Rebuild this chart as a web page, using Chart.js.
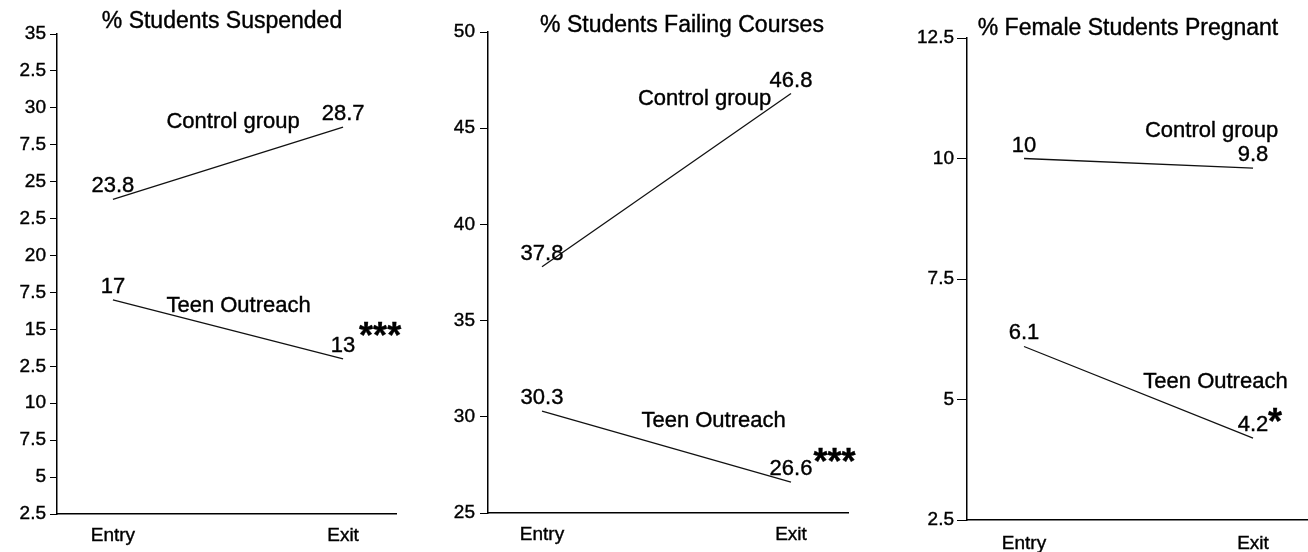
<!DOCTYPE html>
<html><head><meta charset="utf-8">
<script src="https://cdn.jsdelivr.net/npm/chart.js@4.4.1/dist/chart.umd.min.js"></script>
<style>
html,body{margin:0;padding:0;background:#fff;width:1308px;height:552px;overflow:hidden}
canvas{position:absolute;top:0}
</style></head><body>
<canvas id="c1" width="430" height="552" style="left:0px"></canvas>
<canvas id="c2" width="440" height="552" style="left:430px"></canvas>
<canvas id="c3" width="438" height="552" style="left:870px"></canvas>
<script>
// ---------- data ----------
const categories = ["Entry", "Exit"];
const seriesNames = ["Control group", "Teen Outreach"];
const titles = ["% Students Suspended", "% Students Failing Courses", "% Female Students Pregnant"];

const suspendedControl = [23.8, 28.7];
const suspendedTeen = [17, 13];
const failingControl = [37.8, 46.8];
const failingTeen = [30.3, 26.6];
const pregnantControl = [10, 9.8];
const pregnantTeen = [6.1, 4.2];

// tick labels, top to bottom, as printed
const suspendedTickLabels = ["35","2.5","30","7.5","25","2.5","20","7.5","15","2.5","10","7.5","5","2.5"];
const failingTickLabels = ["50","45","40","35","30","25"];
const pregnantTickLabels = ["12.5","10","7.5","5","2.5"];
const suspendedTop = 35, suspendedStep = 2.5;
const failingTop = 50, failingStep = 5;
const pregnantTop = 12.5, pregnantStep = 2.5;

const significance = ["***", "***", "*"];

// ---------- drawing ----------
const FONT = '"Liberation Sans", Arial, sans-serif';
Chart.defaults.font.family = FONT;
Chart.defaults.color = '#000';

function heavyText(ctx, text, x, y) {
  ctx.fillText(text, x, y);
  ctx.strokeText(text, x, y);
}

const annotPlugin = {
  id: 'annot',
  afterDatasetsDraw(chart, args, opts) {
    const ctx = chart.ctx, xs = chart.scales.x, ys = chart.scales.y;
    ctx.save();
    ctx.fillStyle = '#000';
    ctx.strokeStyle = '#000';
    ctx.lineWidth = 0.4;
    ctx.textAlign = 'center';
    ctx.textBaseline = 'alphabetic';
    ctx.font = '22px ' + FONT;
    chart.data.datasets.forEach(ds => {
      ds.data.forEach(p => {
        heavyText(ctx, String(p.y), xs.getPixelForValue(p.x), ys.getPixelForValue(p.y) - 7);
      });
    });
    opts.items.forEach(it => {
      ctx.font = it.font;
      heavyText(ctx, it.text, xs.getPixelForValue(it.x), ys.getPixelForValue(it.y));
    });
    ctx.font = '23px ' + FONT;
    heavyText(ctx, opts.title, opts.titleX, opts.titleY);
    ctx.restore();
  }
};

function pts(vals) { return categories.map((c, i) => ({ x: i, y: vals[i] })); }

function makeChart(id, p) {
  const n = p.tickLabels.length;
  const yMin = p.top - (n - 1) * p.step;
  new Chart(document.getElementById(id), {
    type: 'line',
    data: {
      datasets: [
        { label: seriesNames[0], data: pts(p.control), borderColor: '#111', borderWidth: 1.3, pointRadius: 0, fill: false, tension: 0 },
        { label: seriesNames[1], data: pts(p.teen), borderColor: '#111', borderWidth: 1.3, pointRadius: 0, fill: false, tension: 0 }
      ]
    },
    options: {
      responsive: false, animation: false, devicePixelRatio: 1,
      layout: { padding: { top: p.padTop, right: p.padRight, left: 0, bottom: 0 } },
      plugins: {
        legend: { display: false }, tooltip: { enabled: false }, title: { display: false },
        annot: { items: p.items, title: p.title, titleX: p.titleX, titleY: p.titleY }
      },
      scales: {
        x: {
          type: 'linear', min: p.xMin, max: p.xMax,
          afterBuildTicks: s => { s.ticks = categories.map((c, i) => ({ value: i })); },
          afterFit: s => { s.height = p.xHeight; },
          ticks: { callback: v => categories[v], padding: p.xPad, font: { size: 19 }, color: '#000',
                   textStrokeColor: '#000', textStrokeWidth: 0.4, maxRotation: 0, autoSkip: false },
          grid: { display: false, drawTicks: false },
          border: { display: true, color: '#000', width: 1.5 }
        },
        y: {
          type: 'linear', min: yMin, max: p.top,
          afterBuildTicks: s => { s.ticks = p.tickLabels.map((l, i) => ({ value: yMin + i * p.step })); },
          afterFit: s => { s.width = p.yWidth; },
          ticks: {
            callback: v => p.tickLabels[Math.round((p.top - v) / p.step)],
            padding: p.tickPad, font: { size: 19 }, color: '#000',
            textStrokeColor: '#000', textStrokeWidth: 0.4, autoSkip: false
          },
          grid: { drawOnChartArea: false, drawTicks: true, tickLength: p.tickLen, tickColor: '#000', tickWidth: 1 },
          border: { display: true, color: '#000', width: 1.5 }
        }
      }
    },
    plugins: [annotPlugin]
  });
}

const labelFont = '22px ' + FONT;
const starFont = 'bold 36px ' + FONT;

makeChart('c1', {
  control: suspendedControl, teen: suspendedTeen,
  tickLabels: suspendedTickLabels, top: suspendedTop, step: suspendedStep,
  yWidth: 57, padTop: 34, padRight: 34, xHeight: 38, xMin: -0.243, xMax: 1.23,
  tickLen: 7, tickPad: 4, xPad: 10,
  title: titles[0], titleX: 222, titleY: 28,
  items: [
    { text: seriesNames[0], x: 0.522, y: 28.63, font: labelFont },
    { text: seriesNames[1], x: 0.546, y: 16.18, font: labelFont },
    { text: significance[0], x: 1.161, y: 13.74, font: starFont }
  ]
});
makeChart('c2', {
  control: failingControl, teen: failingTeen,
  tickLabels: failingTickLabels, top: failingTop, step: failingStep,
  yWidth: 58, padTop: 32, padRight: 22, xHeight: 39, xMin: -0.217, xMax: 1.229,
  tickLen: 8, tickPad: 5, xPad: 10,
  title: titles[1], titleX: 252, titleY: 32,
  items: [
    { text: seriesNames[0], x: 0.653, y: 46.21, font: labelFont },
    { text: seriesNames[1], x: 0.689, y: 29.47, font: labelFont },
    { text: significance[1], x: 1.175, y: 27.03, font: starFont }
  ]
});
makeChart('c3', {
  control: pregnantControl, teen: pregnantTeen,
  tickLabels: pregnantTickLabels, top: pregnantTop, step: pregnantStep,
  yWidth: 97, padTop: 38, padRight: 0, xHeight: 32, xMin: -0.249, xMax: 1.24,
  tickLen: 10, tickPad: 3, xPad: 12.6,
  title: titles[2], titleX: 258, titleY: 35,
  items: [
    { text: seriesNames[0], x: 0.819, y: 10.45, font: labelFont },
    { text: seriesNames[1], x: 0.836, y: 5.24, font: labelFont },
    { text: significance[2], x: 1.096, y: 4.28, font: starFont }
  ]
});
</script>
</body></html>
